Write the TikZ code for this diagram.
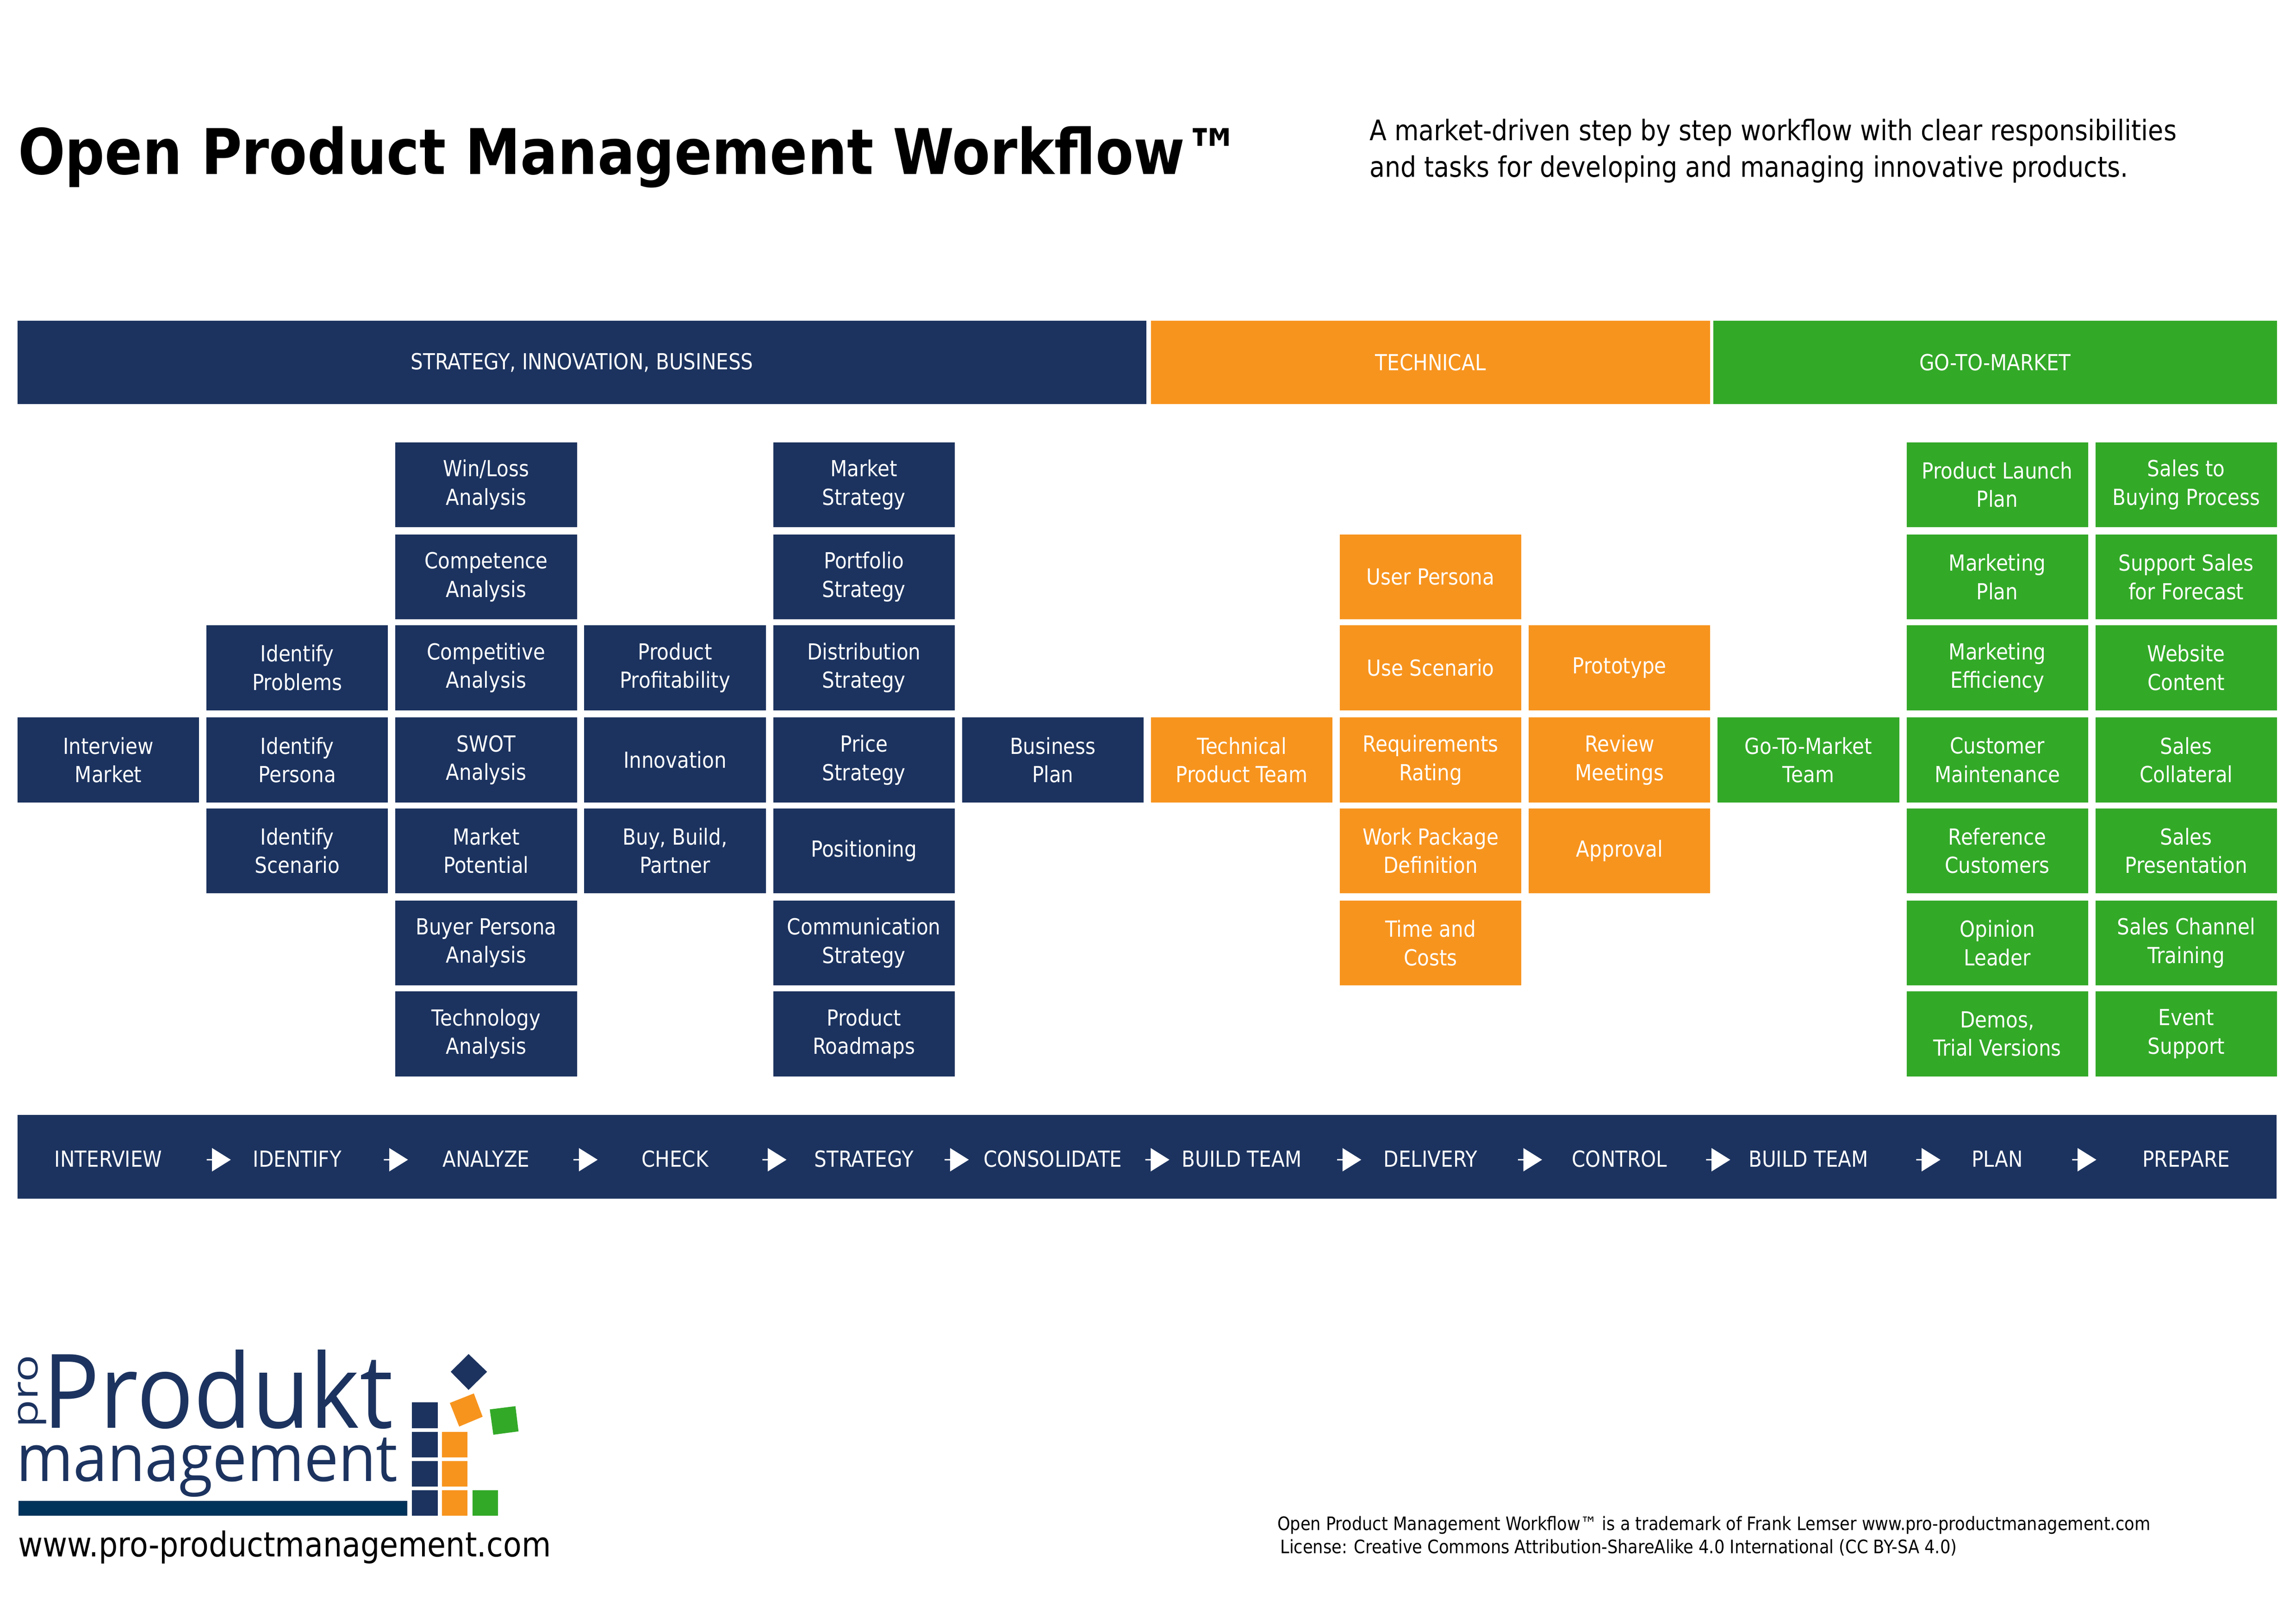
\documentclass[tikz,border=0pt]{standalone}
\usepackage{fontspec}
\usepackage{tikz}
\setmainfont{DejaVu Sans}[FakeStretch=0.88]
\newfontfamily\logofont{Open Sans}
\usetikzlibrary{positioning}
\usetikzlibrary{shapes.arrows}
\definecolor{navy}{HTML}{1C335F}
\definecolor{barnavy}{HTML}{00335B}
\definecolor{amber}{HTML}{F7941E}
\definecolor{leaf}{HTML}{33A928}
\tikzset{
  tile/.style={minimum width=2.48cm, minimum height=1.16cm, inner sep=0pt, align=center,
    text=white, font=\fontsize{8.6}{11.1}\selectfont},
  navytile/.style={tile, fill=navy},
  ambertile/.style={tile, fill=amber},
  leaftile/.style={tile, fill=leaf},
  band/.style={minimum height=1.14cm, inner sep=0pt, text=white, font=\fontsize{8.6}{11}\selectfont},
  steplabel/.style={text=white, inner sep=0pt, font=\fontsize{8.6}{11}\selectfont},
  steparrow/.style={single arrow, fill=white, inner sep=0pt, minimum height=0.33cm,
    minimum width=0.32cm, single arrow head extend=0.11cm, single arrow tip angle=64},
}
\begin{document}
\begin{tikzpicture}[x=0.02cm, y=-0.02cm]
  \useasboundingbox (0,0) rectangle (1568,1108.8);

  % title
  \node[anchor=base west, inner sep=0pt, font=\bfseries\fontsize{24.5}{28}\selectfont] (title) at (12,119) {Open Product Management Workflow™};
  \node[anchor=north west, inner sep=0pt, align=left, font=\fontsize{11}{14.2}\selectfont] (intro) at (935,81) {A market-driven step by step workflow with clear responsibilities\\and tasks for developing and managing innovative products.};

  % header
  \node[band, fill=navy, minimum width=15.42cm] (hstrategy) at (397.5,247.5) {STRATEGY, INNOVATION, BUSINESS};
  \node[band, fill=amber, minimum width=7.64cm] (htechnical) at (977,247.5) {TECHNICAL};
  \node[band, fill=leaf, minimum width=7.7cm] (hmarket) at (1362.5,247.5) {GO-TO-MARKET};

  % interview
  \node[navytile] (interview) at (74,519) {Interview\\Market};

  % identify
  \node[navytile] (problems) at (203,456) {Identify\\Problems};
  \node[navytile] (persona) at (203,519) {Identify\\Persona};
  \node[navytile] (scenario) at (203,581) {Identify\\Scenario};

  % analyze
  \node[navytile] (winloss) at (332,331) {Win/Loss\\Analysis};
  \node[navytile] (competence) at (332,394) {Competence\\Analysis};
  \node[navytile] (competitive) at (332,456) {Competitive\\Analysis};
  \node[navytile] (swot) at (332,519) {SWOT\\Analysis};
  \node[navytile] (potential) at (332,581) {Market\\Potential};
  \node[navytile] (buyer) at (332,644) {Buyer Persona\\Analysis};
  \node[navytile] (technology) at (332,706) {Technology\\Analysis};

  % check
  \node[navytile] (profit) at (461,456) {Product\\Profitability};
  \node[navytile] (innovation) at (461,519) {Innovation};
  \node[navytile] (buybuild) at (461,581) {Buy, Build,\\Partner};

  % strategy
  \node[navytile] (market) at (590,331) {Market\\Strategy};
  \node[navytile] (portfolio) at (590,394) {Portfolio\\Strategy};
  \node[navytile] (distribution) at (590,456) {Distribution\\Strategy};
  \node[navytile] (price) at (590,519) {Price\\Strategy};
  \node[navytile] (positioning) at (590,581) {Positioning};
  \node[navytile] (communication) at (590,644) {Communication\\Strategy};
  \node[navytile] (roadmaps) at (590,706) {Product\\Roadmaps};

  % consolidate
  \node[navytile] (business) at (719,519) {Business\\Plan};

  % technical
  \node[ambertile] (techteam) at (848,519) {Technical\\Product Team};
  \node[ambertile] (userpersona) at (977,394) {User Persona};
  \node[ambertile] (usescenario) at (977,456) {Use Scenario};
  \node[ambertile] (rating) at (977,519) {Requirements\\Rating};
  \node[ambertile] (workpackage) at (977,581) {Work Package\\Definition};
  \node[ambertile] (timecosts) at (977,644) {Time and\\Costs};
  \node[ambertile] (prototype) at (1106,456) {Prototype};
  \node[ambertile] (review) at (1106,519) {Review\\Meetings};
  \node[ambertile] (approval) at (1106,581) {Approval};

  % go to market
  \node[leaftile] (gtmteam) at (1235,519) {Go-To-Market\\Team};
  \node[leaftile] (launch) at (1364,331) {Product Launch\\Plan};
  \node[leaftile] (mplan) at (1364,394) {Marketing\\Plan};
  \node[leaftile] (efficiency) at (1364,456) {Marketing\\Efficiency};
  \node[leaftile] (maintenance) at (1364,519) {Customer\\Maintenance};
  \node[leaftile] (reference) at (1364,581) {Reference\\Customers};
  \node[leaftile] (opinion) at (1364,644) {Opinion\\Leader};
  \node[leaftile] (demos) at (1364,706) {Demos,\\Trial Versions};
  \node[leaftile] (buying) at (1493,331) {Sales to\\Buying Process};
  \node[leaftile] (forecast) at (1493,394) {Support Sales\\for Forecast};
  \node[leaftile] (website) at (1493,456) {Website\\Content};
  \node[leaftile] (collateral) at (1493,519) {Sales\\Collateral};
  \node[leaftile] (presentation) at (1493,581) {Sales\\Presentation};
  \node[leaftile] (channel) at (1493,644) {Sales Channel\\Training};
  \node[leaftile] (event) at (1493,706) {Event\\Support};

  % footer band
  \node[band, fill=navy, minimum width=30.86cm] (flow) at (783.5,790) {};
  \node[steplabel] (s1) at (74,791.5) {INTERVIEW};
  \node[steplabel] (s2) at (203,791.5) {IDENTIFY};
  \node[steplabel] (s3) at (332,791.5) {ANALYZE};
  \node[steplabel] (s4) at (461,791.5) {CHECK};
  \node[steplabel] (s5) at (590,791.5) {STRATEGY};
  \node[steplabel] (s6) at (719,791.5) {CONSOLIDATE};
  \node[steplabel] (s7) at (848,791.5) {BUILD TEAM};
  \node[steplabel] (s8) at (977,791.5) {DELIVERY};
  \node[steplabel] (s9) at (1106,791.5) {CONTROL};
  \node[steplabel] (s10) at (1235,791.5) {BUILD TEAM};
  \node[steplabel] (s11) at (1364,791.5) {PLAN};
  \node[steplabel] (s12) at (1493,791.5) {PREPARE};
  \node[steparrow] (a1) at (149,792) {};
  \node[steparrow] (a2) at (270,792) {};
  \node[steparrow] (a3) at (399.5,792) {};
  \node[steparrow] (a4) at (528.5,792) {};
  \node[steparrow] (a5) at (653,792) {};
  \node[steparrow] (a6) at (790,792) {};
  \node[steparrow] (a7) at (921,792) {};
  \node[steparrow] (a8) at (1044.5,792) {};
  \node[steparrow] (a9) at (1173,792) {};
  \node[steparrow] (a10) at (1316.5,792) {};
  \node[steparrow] (a11) at (1423,792) {};

  % logo
  \fill[barnavy] (12.7,1024.9) rectangle (278,1035.1);
  \fill[navy] (281.2,957.8) rectangle (299,975.2);
  \fill[navy] (281.2,977.8) rectangle (299,995.3);
  \fill[navy] (281.2,997.7) rectangle (299,1015.3);
  \fill[navy] (281.2,1017.7) rectangle (299,1035.1);
  \fill[amber] (301.8,977.8) rectangle (319.3,995.3);
  \fill[amber] (301.8,997.7) rectangle (319.3,1015.3);
  \fill[amber] (301.8,1017.7) rectangle (319.3,1035.1);
  \fill[leaf] (322.7,1017.7) rectangle (340.2,1035.1);
  \fill[navy] (320,924.7) -- (332.6,936.8) -- (320,949.2) -- (307.8,936.8) -- cycle;
  \fill[amber] (323.6,951.6) -- (329.6,967.5) -- (313.6,974.2) -- (307.2,958.1) -- cycle;
  \fill[leaf] (352,960.3) -- (354.1,977.5) -- (336.9,979.8) -- (334.5,962.5) -- cycle;
  \node[anchor=base west, inner sep=0pt, text=navy, xscale=0.92, font=\logofont\fontsize{40}{40}\selectfont] (produkt) at (29,975.2) {Produkt};
  \node[anchor=base west, inner sep=0pt, text=navy, xscale=0.93, font=\logofont\fontsize{25.6}{26}\selectfont] (management) at (11,1011.7) {management};
  \node[anchor=base west, inner sep=0pt, text=navy, rotate=90, font=\logofont\fontsize{14}{14}\selectfont, xscale=1.25] (prologo) at (25.7,975.2) {pro};
  \node[anchor=base west, inner sep=0pt, font=\fontsize{13.3}{16}\selectfont] (www) at (12,1063) {www.pro-productmanagement.com};

  % note
  \node[anchor=north west, inner sep=0pt, align=left, font=\fontsize{7.2}{9}\selectfont] (note) at (872,1035) {Open Product Management Workflow™ is a trademark of Frank Lemser www.pro-productmanagement.com\\\hspace*{0.04cm}License: Creative Commons Attribution-ShareAlike 4.0 International (CC BY-SA 4.0)};
\end{tikzpicture}
\end{document}
